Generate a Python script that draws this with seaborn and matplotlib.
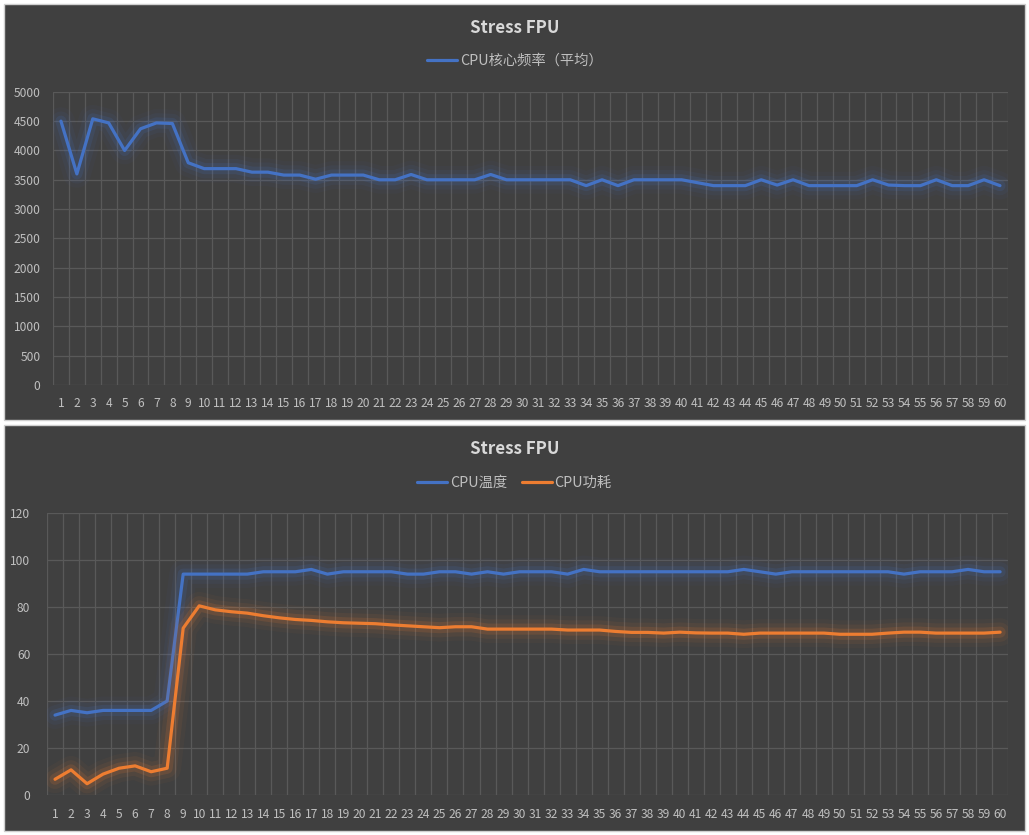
import matplotlib
matplotlib.use("Agg")
import matplotlib.pyplot as plt
import matplotlib.patheffects as pe
from matplotlib.lines import Line2D
from matplotlib.patches import Rectangle
import numpy as np
import pandas as pd
import seaborn as sns

# data
samples = list(range(1, 61))

cpu_freq = [4500, 3600, 4540, 4470, 4000, 4370, 4470, 4460, 3790, 3690,
            3690, 3690, 3630, 3630, 3580, 3580, 3510, 3580, 3580, 3580,
            3500, 3500, 3590, 3500, 3500, 3500, 3500, 3590, 3500, 3500,
            3500, 3500, 3500, 3400, 3500, 3400, 3500, 3500, 3500, 3500,
            3450, 3400, 3400, 3400, 3500, 3410, 3500, 3400, 3400, 3400,
            3400, 3500, 3410, 3400, 3400, 3500, 3400, 3400, 3500, 3400]

cpu_temp = [34, 36, 35, 36, 36, 36, 36, 40, 94, 94,
            94, 94, 94, 95, 95, 95, 96, 94, 95, 95,
            95, 95, 94, 94, 95, 95, 94, 95, 94, 95,
            95, 95, 94, 96, 95, 95, 95, 95, 95, 95,
            95, 95, 95, 96, 95, 94, 95, 95, 95, 95,
            95, 95, 95, 94, 95, 95, 95, 96, 95, 95]

cpu_power = [6.7, 10.7, 4.8, 8.9, 11.4, 12.4, 9.9, 11.4, 71.0, 80.5,
             78.8, 78.0, 77.4, 76.3, 75.4, 74.7, 74.3, 73.7, 73.3, 73.1,
             72.9, 72.4, 72.0, 71.6, 71.2, 71.6, 71.6, 70.6, 70.6, 70.6,
             70.6, 70.6, 70.2, 70.2, 70.2, 69.6, 69.2, 69.2, 68.9, 69.3,
             69.0, 68.9, 68.9, 68.4, 68.9, 68.9, 68.9, 68.9, 68.9, 68.4,
             68.4, 68.4, 68.9, 69.3, 69.3, 68.9, 68.9, 68.9, 68.9, 69.3]

freq_label = 'CPU核心频率（平均）'
temp_label = 'CPU温度'
power_label = 'CPU功耗'

BG = '#404040'
GRID = '#595959'
TXT = '#bfbfbf'
BLUE = '#4472c4'
ORANGE = '#ed7d31'

sns.set_style("dark")
plt.rcParams['font.family'] = ['Noto Sans CJK SC', 'DejaVu Sans']

fig = plt.figure(figsize=(10.29, 8.35), dpi=100, facecolor='white')

# dark panels behind each chart
for b, h in [(0.497, 0.498), (0.0048, 0.486)]:
    fig.patches.append(Rectangle((0.004, b), 0.992, h, transform=fig.transFigure,
                                 facecolor=BG, edgecolor='#d0d0d0', lw=1, zorder=-10))


def glow(line, color):
    line.set_path_effects([
        pe.Stroke(linewidth=20, foreground=color, alpha=0.04),
        pe.Stroke(linewidth=14, foreground=color, alpha=0.07),
        pe.Stroke(linewidth=8, foreground=color, alpha=0.14),
        pe.Normal()])


def style_axes(ax, ymax, ystep, ypad):
    ax.set_facecolor(BG)
    ax.set_xlim(0.5, 60.5)
    ax.set_ylim(0, ymax)
    ax.set_xticks(samples)
    ax.set_xticklabels([str(s) for s in samples])
    ax.set_xticks(np.arange(0.5, 61, 1), minor=True)
    ax.set_yticks(np.arange(0, ymax + 1, ystep))
    ax.grid(False)
    ax.grid(True, which='minor', axis='x', color=GRID, lw=0.9)
    ax.grid(True, which='major', axis='y', color=GRID, lw=0.9)
    ax.tick_params(axis='both', which='both', length=0, colors=TXT, labelsize=8.7)
    ax.tick_params(axis='x', pad=9)
    ax.tick_params(axis='y', pad=ypad)
    ax.set_xlabel('')
    ax.set_ylabel('')
    for s in ax.spines.values():
        s.set_visible(False)
    ax.set_axisbelow(True)


# top chart: frequency
df_freq = pd.DataFrame({'sample': samples, 'freq': cpu_freq})
ax1 = fig.add_axes([0.0515, 0.539, 0.928, 0.351])
sns.lineplot(data=df_freq, x='sample', y='freq', color=BLUE, lw=2.3, ax=ax1)
glow(ax1.lines[0], BLUE)
style_axes(ax1, 5000, 500, 9)
fig.text(0.5, 0.966, 'Stress FPU', ha='center', va='center', color='#d9d9d9',
         fontsize=12.2, fontweight='bold')
fig.legend(handles=[Line2D([], [], color=BLUE, lw=2.3)], labels=[freq_label],
           loc='center', bbox_to_anchor=(0.5, 0.927), frameon=False, fontsize=10.3,
           labelcolor=TXT, handlelength=2.1, handletextpad=0.2)

# bottom chart: temperature and power
df_tp = pd.DataFrame({
    'sample': samples * 2,
    'value': cpu_temp + cpu_power,
    'series': [temp_label] * 60 + [power_label] * 60})
ax2 = fig.add_axes([0.0457, 0.0479, 0.934, 0.3377])
sns.lineplot(data=df_tp, x='sample', y='value', hue='series',
             palette={temp_label: BLUE, power_label: ORANGE}, lw=2.3, ax=ax2, legend=False)
glow(ax2.lines[0], BLUE)
glow(ax2.lines[1], ORANGE)
style_axes(ax2, 120, 20, 12)
fig.text(0.5, 0.462, 'Stress FPU', ha='center', va='center', color='#d9d9d9',
         fontsize=12.2, fontweight='bold')
fig.legend(handles=[Line2D([], [], color=BLUE, lw=2.3), Line2D([], [], color=ORANGE, lw=2.3)],
           labels=[temp_label, power_label], ncol=2,
           loc='center', bbox_to_anchor=(0.5, 0.4216), frameon=False, fontsize=10.3,
           labelcolor=TXT, handlelength=2.1, handletextpad=0.2, columnspacing=1.0)

fig.savefig('out.png', dpi=100, facecolor=fig.get_facecolor())
